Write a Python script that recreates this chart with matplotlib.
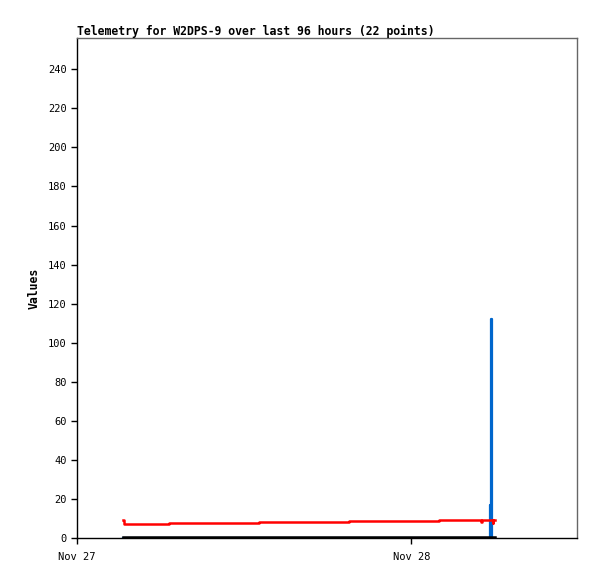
import matplotlib
matplotlib.use("Agg")
import matplotlib.pyplot as plt
import matplotlib.dates as mdates
from datetime import datetime, timedelta

title = "Telemetry for W2DPS-9 over last 96 hours (22 points)"
ylabel = "Values"

start = datetime(2024, 11, 27, 0, 0)
# hours after Nov 27 00:00 for each of the 22 points
hours = [3.3, 3.36, 6.6, 13.1, 19.5, 26.0, 28.5, 28.9, 29.0, 29.05, 29.3,
         29.5, 29.55, 29.6, 29.65, 29.7, 29.74, 29.78, 29.82, 29.86, 29.9, 30.0]
red = [9.0, 7.0, 7.5, 8.0, 8.5, 9.0, 9.0, 9.0, 8.0, 9.0, 9.0,
       9.0, 9.0, 9.0, 9.0, 9.0, 9.0, 9.0, 9.0, 7.6, 9.0, 9.0]
black = [0.6] * 22
blue = [0, 0, 0, 0, 0, 0, 0, 0, 0, 0, 0,
        0, 0, 0, 17, 17, 112, 0, 0, 0, 0, 0]

times = [start + timedelta(hours=h) for h in hours]

fig = plt.figure(figsize=(5.97, 5.79), dpi=100)
ax = fig.add_axes([77/597, 41/579, 500/597, 500/579])

ax.plot(times, blue, color="#0066cc", lw=1.6, drawstyle="steps-post", zorder=2)
ax.plot(times, black, color="black", lw=1.8, drawstyle="steps-post", zorder=3)
ax.plot(times, red, color="#ff0000", lw=1.8, drawstyle="steps-post", zorder=4)

ax.set_xlim(start, start + timedelta(hours=35.9))
ax.set_ylim(0, 256)
ax.set_yticks(range(0, 241, 20))
ax.xaxis.set_major_locator(mdates.DayLocator())
ax.xaxis.set_major_formatter(mdates.DateFormatter("%b %d"))

mono = "DejaVu Sans Mono"
for lab in ax.get_xticklabels() + ax.get_yticklabels():
    lab.set_family(mono)
    lab.set_fontsize(7.5)
ax.tick_params(axis="both", direction="out", length=4, width=1, color="black")
ax.tick_params(axis="x", pad=6)

for side in ["top", "right"]:
    ax.spines[side].set_color("#666666")
for side in ["left", "bottom"]:
    ax.spines[side].set_color("black")
for s in ax.spines.values():
    s.set_linewidth(1)

ax.set_title(title, loc="left", family=mono, fontweight="bold", fontsize=8.3, pad=2)
ax.set_ylabel(ylabel, family=mono, fontweight="bold", fontsize=8.3, labelpad=5)

fig.savefig("out.png", dpi=100)
